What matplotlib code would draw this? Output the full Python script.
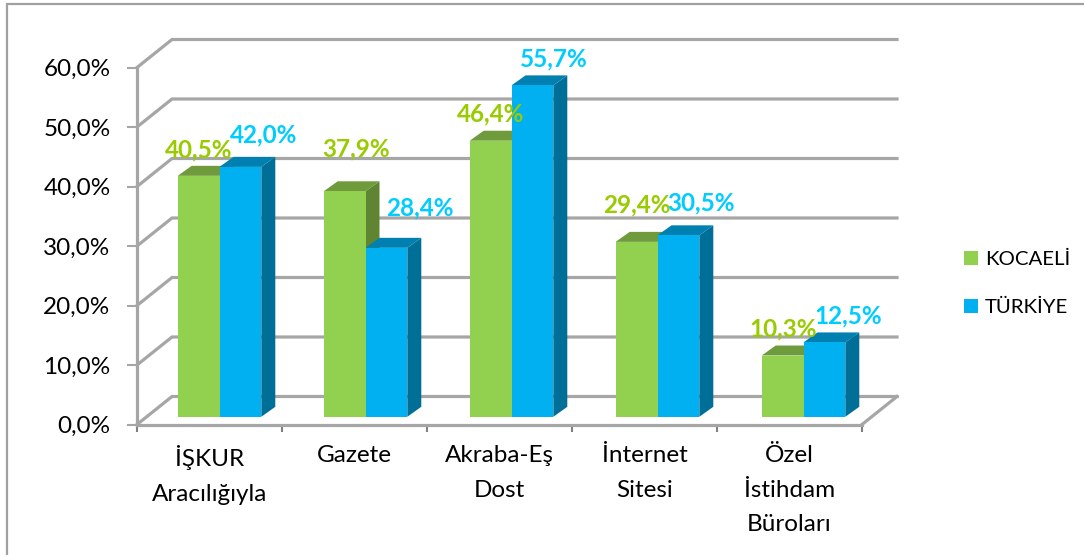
import matplotlib
matplotlib.use("Agg")
import numpy as np
import matplotlib.pyplot as plt
from matplotlib.patches import Patch, Polygon
from matplotlib.lines import Line2D

plt.rcParams['font.family'] = ['Lato', 'DejaVu Sans']

# data
categories = ["İŞKUR\nAracılığıyla", "Gazete", "Akraba-Eş\nDost", "İnternet\nSitesi", "Özel\nİstihdam\nBüroları"]
kocaeli = [40.5, 37.9, 46.4, 29.4, 10.3]
turkiye = [42.0, 28.4, 55.7, 30.5, 12.5]
kocaeli_labels = ["40,5%", "37,9%", "46,4%", "29,4%", "10,3%"]
turkiye_labels = ["42,0%", "28,4%", "55,7%", "30,5%", "12,5%"]
y_ticks = [0, 10, 20, 30, 40, 50, 60]
y_tick_labels = ["0,0%", "10,0%", "20,0%", "30,0%", "40,0%", "50,0%", "60,0%"]

# hand placed data labels, pixels above the top of the bar / across from its centre
kocaeli_lab_dx = [0, 11, 0, 0, 1]
kocaeli_lab_dy = [26, 42, 27, 37, 27]
turkiye_lab_dx = [23, 33, 21, 23, 24]
turkiye_lab_dy = [32, 40, 26, 32, 27]

W, H = 1084, 555
GRID = "#A6A6A6"
px_x = 145.0  # pixels per category
px_y = 5.95   # pixels per percent

fig = plt.figure(figsize=(W / 100, H / 100), dpi=100)
ax = fig.add_axes([137 / W, (H - 424.5) / H, 725 / W, 357 / H])
ax.set_xlim(0, 5)
ax.set_ylim(0, 60)
ax.patch.set_visible(False)

# depth of the floor and of the bars, in data units
wall_dx, wall_dy = 35 / px_x, 28 / px_y
bar_dx, bar_dy = 14 / px_x, 10 / px_y
bar_w = 41.8 / px_x
bar_x0 = 10 / px_x
bar_y0 = 7.7 / px_y

# back wall grid lines and the diagonals running to them
for v in y_ticks:
    ax.plot([0, wall_dx, 5 + wall_dx], [v, v + wall_dy, v + wall_dy], color=GRID, lw=2.3,
            clip_on=False, zorder=1, solid_joinstyle="miter")
ax.plot([5, 5 + wall_dx], [0, wall_dy], color=GRID, lw=2.3, clip_on=False, zorder=1)


def draw_bar(x, v, front, top, side):
    y = bar_y0
    ax.add_patch(Polygon([(x + bar_w, y), (x + bar_w + bar_dx, y + bar_dy),
                          (x + bar_w + bar_dx, y + v + bar_dy), (x + bar_w, y + v)],
                         fc=side, ec="none", clip_on=False, zorder=3))
    ax.add_patch(Polygon([(x, y + v), (x + bar_dx, y + v + bar_dy),
                          (x + bar_w + bar_dx, y + v + bar_dy), (x + bar_w, y + v)],
                         fc=top, ec="none", clip_on=False, zorder=3))
    ax.add_patch(Polygon([(x, y), (x + bar_w, y), (x + bar_w, y + v), (x, y + v)],
                         fc=front, ec="none", clip_on=False, zorder=4))


for i in range(len(categories)):
    c = i + 0.5 + bar_x0 + i * 1.0 / px_x
    draw_bar(c - bar_w, kocaeli[i], "#92D050", "#6F9B3C", "#5F8532")
    draw_bar(c, turkiye[i], "#00B0F0", "#0080B0", "#006F98")
    ax.annotate(kocaeli_labels[i], (c - bar_w / 2, bar_y0 + kocaeli[i]),
                xytext=(kocaeli_lab_dx[i] * 0.72, kocaeli_lab_dy[i] * 0.72), textcoords="offset points",
                ha="center", va="center", color="#99CC00", fontsize=17.5, fontweight="bold", zorder=6,
                annotation_clip=False)
    ax.annotate(turkiye_labels[i], (c + bar_w / 2, bar_y0 + turkiye[i]),
                xytext=(turkiye_lab_dx[i] * 0.72, turkiye_lab_dy[i] * 0.72), textcoords="offset points",
                ha="center", va="center", color="#00CCFF", fontsize=17.5, fontweight="bold", zorder=6,
                annotation_clip=False)

# axes
for s in ["top", "right"]:
    ax.spines[s].set_visible(False)
for s in ["left", "bottom"]:
    ax.spines[s].set_color(GRID)
    ax.spines[s].set_linewidth(2.3)
    ax.spines[s].set_zorder(2)
ax.set_yticks(y_ticks)
ax.set_yticklabels(y_tick_labels, fontsize=17.5, color="black")
ax.tick_params(axis="y", length=7, width=1.5, color=GRID, pad=12)
ax.set_xticks(range(6))
ax.set_xticklabels([])
ax.tick_params(axis="x", which="major", length=5, width=1.5, color="#808080")
ax.set_xticks(np.arange(5) + 0.5, minor=True)
ax.set_xticklabels(categories, minor=True, fontsize=17.5, color="black", linespacing=1.78)
ax.tick_params(axis="x", which="minor", length=0, pad=15)

# legend
handles = [Patch(fc="#92D050", ec="none"), Patch(fc="#00B0F0", ec="none")]
fig.legend(handles, ["KOCAELİ", "TÜRKİYE"], loc="center left", bbox_to_anchor=(958 / W, 1 - 283.5 / H),
           frameon=False, fontsize=14.7, handlelength=0.68, handleheight=0.68, handletextpad=0.35,
           labelspacing=1.55, borderpad=0.3, borderaxespad=0)

# outer chart frame, it runs off the right and bottom of the picture
fig.add_artist(Line2D([7 / W, 7 / W, 1], [0, 1 - 4 / H, 1 - 4 / H], color="#A0A0A0", lw=1.6,
                      solid_joinstyle="miter"))

fig.savefig("out.png", dpi=100, facecolor="white")
